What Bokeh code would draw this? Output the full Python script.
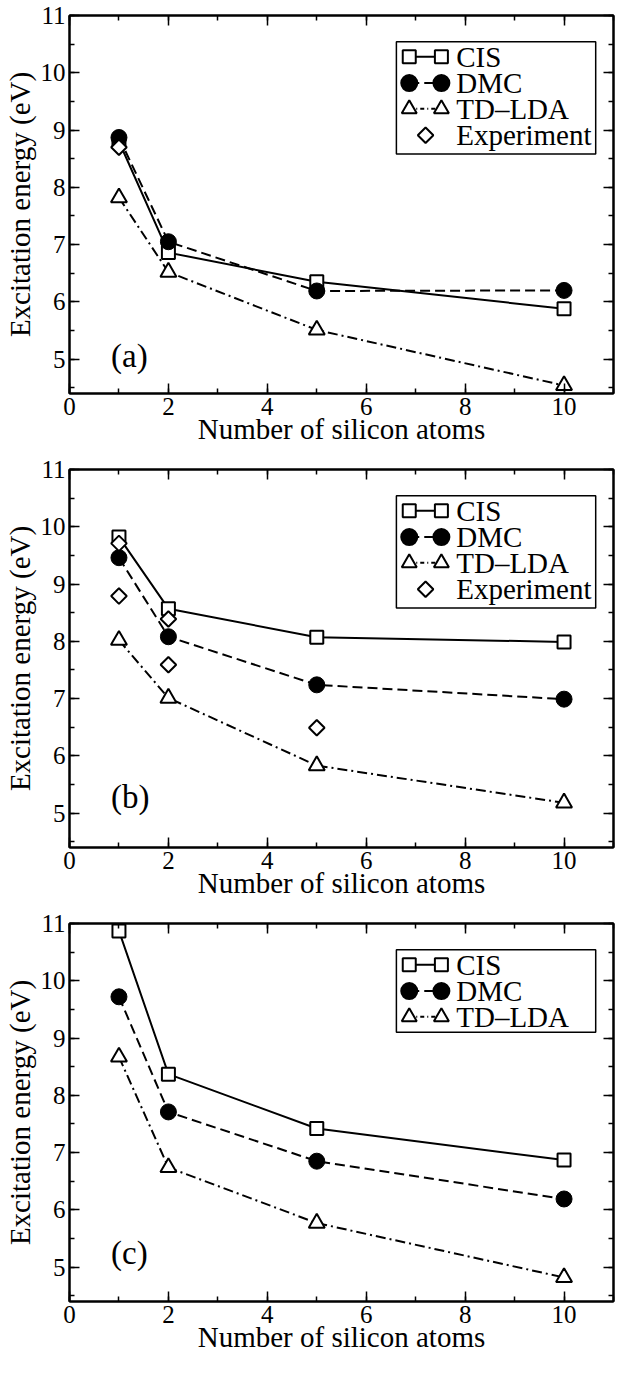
from bokeh.plotting import figure
from bokeh.models import Range1d, LinearAxis, SingleIntervalTicker, Label
from bokeh.layouts import column
from bokeh.embed import file_html
from bokeh.resources import INLINE
from bokeh.core.properties import value

# ---- data ----
X_ATOMS = [1, 2, 5, 10]

A_CIS = [8.80, 6.86, 6.35, 5.88]
A_DMC = [8.87, 7.05, 6.19, 6.20]
A_TDLDA = [7.82, 6.52, 5.51, 4.54]
A_EXP_X = [1]
A_EXP = [8.70]

B_CIS = [9.82, 8.57, 8.07, 7.99]
B_DMC = [9.46, 8.08, 7.24, 6.99]
B_TDLDA = [8.02, 7.01, 5.83, 5.18]
B_EXP_X = [1, 1, 2, 2, 5]
B_EXP = [9.71, 8.79, 8.39, 7.59, 6.49]

C_CIS = [10.87, 8.37, 7.42, 6.87]
C_DMC = [9.72, 7.71, 6.85, 6.19]
C_TDLDA = [8.67, 6.74, 5.77, 4.82]

SERIES_NAMES = ["CIS", "DMC", "TD\u2013LDA", "Experiment"]
PANEL_TAGS = ["(a)", "(b)", "(c)"]
X_LABEL = "Number of silicon atoms"
Y_LABEL = "Excitation energy (eV)"

FONT = "Liberation Serif"
XR = (0, 11)
YR = (4.4, 11)

DASH_DMC = "10 5"
DASH_TD = "10 4 2 4"


def style_axis(ax, label_size):
    ax.axis_line_color = "black"
    ax.axis_line_width = 2
    ax.major_tick_in = 10
    ax.major_tick_out = 0
    ax.minor_tick_in = 5
    ax.minor_tick_out = 0
    ax.major_tick_line_color = "black"
    ax.minor_tick_line_color = "black"
    ax.major_tick_line_width = 1.5
    ax.minor_tick_line_width = 1.5
    ax.major_label_text_font = FONT
    ax.major_label_text_font_size = label_size
    ax.major_label_text_color = "black"
    ax.axis_label_text_font = FONT
    ax.axis_label_text_font_size = "29px"
    ax.axis_label_text_font_style = "normal"
    ax.axis_label_text_color = "black"


def legend_marks(p, rows, box_bottom):
    # legend layout positions (in data space of the frame)
    bx0, bx1, by1 = 6.61, 10.64, 10.54
    s1, s2, tx, sx = 6.87, 7.52, 7.82, 7.20
    row_y = [10.28, 9.82, 9.37, 8.91]
    p.quad(left=[bx0], right=[bx1], top=[by1], bottom=[box_bottom],
           fill_color="white", line_color="black", line_width=1.5)
    styles = [
        dict(dash="solid", marker="square", fill="white", size=13),
        dict(dash=DASH_DMC, marker="circle", fill="black", size=16),
        dict(dash="4 3 1 3", marker="triangle", fill="white", size=15),
    ]
    for i in range(rows):
        y = row_y[i]
        if i < 3:
            st = styles[i]
            p.line([s1, s2], [y, y], line_color="black", line_width=2, line_dash=st["dash"])
            p.scatter([s1, s2], [y, y], marker=st["marker"], size=st["size"],
                      fill_color=st["fill"], line_color="black", line_width=2)
        else:
            p.scatter([sx], [y], marker="square", angle=0.785398, size=11,
                      fill_color="white", line_color="black", line_width=2)
        p.text([tx], [y], text=[SERIES_NAMES[i]], text_font=value(FONT),
               text_font_size="29px", text_baseline="middle", text_align="left",
               text_color="black")


def make_panel(cis, dmc, tdlda, exp_x, exp_y, tag, tag_y, height, top, bottom, rows, box_bottom):
    p = figure(width=615, height=height, x_range=Range1d(*XR), y_range=Range1d(*YR),
               output_backend="svg", toolbar_location=None,
               min_border_left=66, min_border_right=2,
               min_border_top=top, min_border_bottom=bottom)
    p.grid.visible = False
    p.outline_line_color = "black"
    p.outline_line_width = 2
    p.background_fill_color = "white"
    p.border_fill_color = "white"

    xt = SingleIntervalTicker(interval=2, num_minor_ticks=2)
    yt = SingleIntervalTicker(interval=1, num_minor_ticks=2)
    p.xaxis.ticker = xt
    p.yaxis.ticker = yt
    style_axis(p.xaxis[0], "25px")
    style_axis(p.yaxis[0], "25px")
    p.xaxis.axis_label = X_LABEL
    p.yaxis.axis_label = Y_LABEL
    p.xaxis.major_label_standoff = 4
    p.yaxis.major_label_standoff = 4
    p.xaxis.axis_label_standoff = -5
    p.yaxis.axis_label_standoff = 2

    top_ax = LinearAxis(ticker=SingleIntervalTicker(interval=2, num_minor_ticks=2))
    right_ax = LinearAxis(ticker=SingleIntervalTicker(interval=1, num_minor_ticks=2))
    for ax in (top_ax, right_ax):
        style_axis(ax, "0px")
        ax.major_label_standoff = 0
        ax.major_label_text_alpha = 0
    p.add_layout(top_ax, "above")
    p.add_layout(right_ax, "right")

    # series
    p.line(X_ATOMS, cis, line_color="black", line_width=2)
    p.line(X_ATOMS, dmc, line_color="black", line_width=2, line_dash=DASH_DMC)
    p.line(X_ATOMS, tdlda, line_color="black", line_width=2, line_dash=DASH_TD)
    p.scatter(X_ATOMS, cis, marker="square", size=13, fill_color="white",
              line_color="black", line_width=2)
    p.scatter(X_ATOMS, dmc, marker="circle", size=16, fill_color="black",
              line_color="black", line_width=1)
    p.scatter(X_ATOMS, tdlda, marker="triangle", size=16, fill_color="white",
              line_color="black", line_width=2)
    if exp_x:
        p.scatter(exp_x, exp_y, marker="square", angle=0.785398, size=11,
                  fill_color="white", line_color="black", line_width=2)

    legend_marks(p, rows, box_bottom)

    p.add_layout(Label(x=0.84, y=tag_y, text=tag, text_font=FONT, text_font_size="33px",
                       text_baseline="middle", text_align="left", text_color="black"))
    return p


pa = make_panel(A_CIS, A_DMC, A_TDLDA, A_EXP_X, A_EXP, PANEL_TAGS[0], 5.05,
                454, 15, 61, 4, 8.58)
pb = make_panel(B_CIS, B_DMC, B_TDLDA, B_EXP_X, B_EXP, PANEL_TAGS[1], 5.29,
                454, 15, 61, 4, 8.58)
pc = make_panel(C_CIS, C_DMC, C_TDLDA, [], [], PANEL_TAGS[2], 5.25,
                454, 15, 61, 3, 9.10)

layout = column(pa, pb, pc, spacing=0)
open("out.html", "w").write(file_html(layout, INLINE))
